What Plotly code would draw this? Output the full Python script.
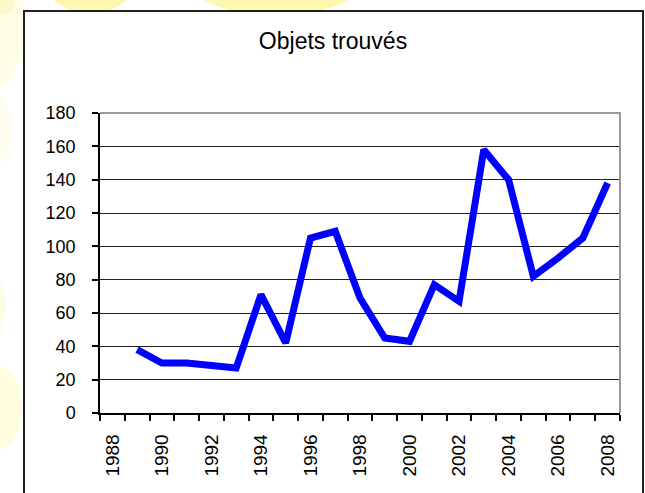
import plotly.graph_objects as go

# Objets trouvés, par année
years = [1989, 1990, 1991, 1992, 1993, 1994, 1995, 1996, 1997, 1998,
         1999, 2000, 2001, 2002, 2003, 2004, 2005, 2006, 2007, 2008]
objets = [38, 30, 30, 28, 27, 71, 42, 105, 109, 69,
          45, 43, 77, 67, 158, 140, 82, 93, 105, 138]
year_labels = list(range(1988, 2009, 2))
y_ticks = list(range(0, 181, 20))

W, H = 645, 493
L, R, T, B = 100, 25, 113, 80
pw, ph = W - L - R, H - T - B


def xp(px):
    return (px - L) / pw


def yp(py):
    return (H - B - py) / ph


fig = go.Figure()
fig.add_trace(go.Scatter(
    x=years, y=objets, mode='lines',
    line=dict(color='#0000FF', width=7),
    hoverinfo='x+y', showlegend=False
))

shapes = []
# faint yellow blobs of the page background
for x0, y0, x1, y1, col in [(-30, -30, 26, 85, '#FFFDE6'), (-20, 95, 12, 165, '#FFFEEE'),
                            (-25, 275, 6, 335, '#FFFDE8'), (-30, 365, 22, 450, '#FFFCE0'),
                            (-10, -40, 18, 14, '#FFF9C8'), (45, -50, 135, 13, '#FFF6B0'),
                            (190, -50, 362, 15, '#FFF6B0')]:
    shapes.append(dict(type='circle', xref='paper', yref='paper',
                       x0=xp(x0), x1=xp(x1), y0=yp(y1), y1=yp(y0),
                       fillcolor=col, line=dict(width=0), layer='below'))
# chart frame
shapes.append(dict(type='rect', xref='paper', yref='paper',
                   x0=xp(24), x1=xp(643), y0=yp(520), y1=yp(11),
                   fillcolor='white', line=dict(color='#222222', width=2), layer='below'))
# grey plot-area border (top and right)
shapes.append(dict(type='path', xref='paper', yref='paper',
                   path='M 0,1 L 1,1 L 1,0', line=dict(color='#999999', width=2),
                   layer='above'))

fig.update_layout(
    width=W, height=H,
    margin=dict(l=L, r=R, t=T, b=B),
    paper_bgcolor='white', plot_bgcolor='white',
    font=dict(family='Liberation Sans, Arial, sans-serif', color='black', size=18),
    title=dict(text='Objets trouvés', x=333 / W, y=1 - 41 / H,
               xref='container', yref='container',
               xanchor='center', yanchor='middle',
               font=dict(size=23, color='black')),
    shapes=shapes,
    showlegend=False,
)

fig.update_xaxes(
    range=[1987.5, 2008.5],
    tickmode='array', tickvals=year_labels, ticktext=[str(y) for y in year_labels],
    tickangle=-90, ticks='', ticklabelstandoff=12,
    tickfont=dict(size=19),
    showgrid=False, zeroline=False,
    showline=True, linecolor='black', linewidth=1.5,
    minor=dict(tick0=1987.5, dtick=1, ticks='outside', ticklen=6,
               tickcolor='black', tickwidth=1.5, showgrid=False),
)
fig.update_yaxes(
    range=[0, 180], tickmode='array', tickvals=y_ticks,
    ticks='outside', ticklen=6, tickcolor='black', tickwidth=1.5,
    ticklabelstandoff=13,
    showgrid=True, gridcolor='#222222', gridwidth=1,
    zeroline=False, showline=True, linecolor='black', linewidth=1.5,
)

fig.write_html("out.html", config={'displayModeBar': False},
               post_script="document.body.style.margin='0';")
